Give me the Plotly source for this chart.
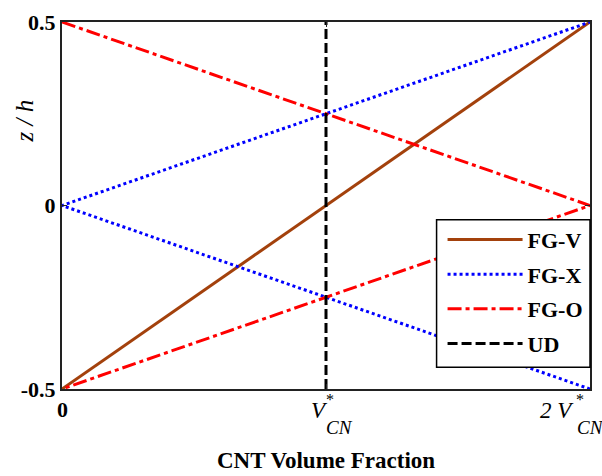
import plotly.graph_objects as go

# Data (x in units of V*_CN, z/h)
fgv_x = [0, 2]
fgv_z = [-0.5, 0.5]
fgx_x = [2, 0, 2]
fgx_z = [-0.5, 0, 0.5]
fgo_x = [0, 2, 0]
fgo_z = [0.5, 0, -0.5]
ud_x = [1, 1]
ud_z = [-0.5, 0.5]

xtick_vals = [0, 1, 2]
ytick_vals = [-0.5, 0, 0.5]
ytick_text = ["-0.5", "0", "0.5"]

font = "Liberation Serif"

fig = go.Figure()
fig.add_trace(go.Scatter(x=fgv_x, y=fgv_z, mode="lines", name="FG-V", legendgroup="a",
                         line=dict(color="#A3410C", width=3)))
fig.add_trace(go.Scatter(x=fgx_x, y=fgx_z, mode="lines", name="FG-X", legendgroup="b",
                         line=dict(color="#0000FF", width=3, dash="3px,3px")))
fig.add_trace(go.Scatter(x=fgo_x, y=fgo_z, mode="lines", name="FG-O", legendgroup="c",
                         line=dict(color="#FF0000", width=3, dash="14px,4px,4px,4px")))
fig.add_trace(go.Scatter(x=ud_x, y=ud_z, mode="lines", name="UD", legendgroup="d",
                         line=dict(color="#000000", width=3, dash="10px,4px")))

L, T, W, H = 62, 16, 530, 373


def px(xp):
    return (xp - L) / W


def py(yp):
    return (T + H - yp) / H


annotations = [
    dict(text="<i>z / h</i>", x=px(24), y=py(117), xref="paper", yref="paper",
         xanchor="center", yanchor="middle", showarrow=False, textangle=-90,
         font=dict(family=font, size=25, color="black")),
    dict(text="<b>CNT Volume Fraction</b>", x=px(327), y=py(462), xref="paper", yref="paper",
         xanchor="center", yanchor="middle", showarrow=False,
         font=dict(family=font, size=23, color="black")),
    # x tick labels
    dict(text="<b>0</b>", x=xtick_vals[0], y=py(410), xref="x", yref="paper",
         xanchor="center", yanchor="middle", showarrow=False,
         font=dict(family=font, size=22, color="black")),
    dict(text="<i>V</i>", x=xtick_vals[1], xshift=-7, y=py(411), xref="x", yref="paper",
         xanchor="center", yanchor="middle", showarrow=False,
         font=dict(family=font, size=23, color="black")),
    dict(text="*", x=xtick_vals[1], xshift=4, y=py(400), xref="x", yref="paper",
         xanchor="center", yanchor="middle", showarrow=False,
         font=dict(family=font, size=16, color="black")),
    dict(text="<i>CN</i>", x=xtick_vals[1], xshift=13, y=py(428), xref="x", yref="paper",
         xanchor="center", yanchor="middle", showarrow=False,
         font=dict(family=font, size=19, color="black")),
    dict(text="<i>2 V</i>", x=xtick_vals[2], xshift=-33, y=py(411), xref="x", yref="paper",
         xanchor="center", yanchor="middle", showarrow=False,
         font=dict(family=font, size=23, color="black")),
    dict(text="*", x=xtick_vals[2], xshift=-10, y=py(400), xref="x", yref="paper",
         xanchor="center", yanchor="middle", showarrow=False,
         font=dict(family=font, size=16, color="black")),
    dict(text="<i>CN</i>", x=xtick_vals[2], xshift=-15, y=py(428), xref="x", yref="paper",
         xanchor="left", yanchor="middle", showarrow=False,
         font=dict(family=font, size=19, color="black")),
]

fig.update_layout(
    width=602, height=476,
    margin=dict(l=L, r=602 - L - W, t=T, b=476 - T - H),
    paper_bgcolor="white", plot_bgcolor="white",
    font=dict(family=font, color="black"),
    showlegend=True,
    legend=dict(x=px(444), y=py(216), xanchor="left", yanchor="top",
                borderwidth=0, bgcolor="rgba(0,0,0,0)",
                font=dict(family=font, size=22, color="black", weight="bold"),
                itemwidth=75, tracegroupgap=3),
    shapes=[dict(type="rect", xref="paper", yref="paper",
                 x0=px(438), x1=px(592), y0=py(367), y1=py(217),
                 line=dict(color="black", width=1.5), fillcolor="white", layer="above")],
    xaxis=dict(range=[0, 2], tickvals=xtick_vals, showticklabels=False,
               showgrid=False, zeroline=False, showline=True, linecolor="#222",
               linewidth=2, mirror="ticks", ticks="inside", ticklen=5, tickcolor="#222"),
    yaxis=dict(range=[-0.5, 0.5], tickvals=ytick_vals, ticktext=ytick_text,
               showgrid=False, zeroline=False, showline=True, linecolor="#222",
               linewidth=2, mirror="ticks", ticks="inside", ticklen=5, tickcolor="#222",
               tickfont=dict(family=font, size=22, color="black", weight="bold")),
    annotations=annotations,
)

fig.write_html("out.html")
